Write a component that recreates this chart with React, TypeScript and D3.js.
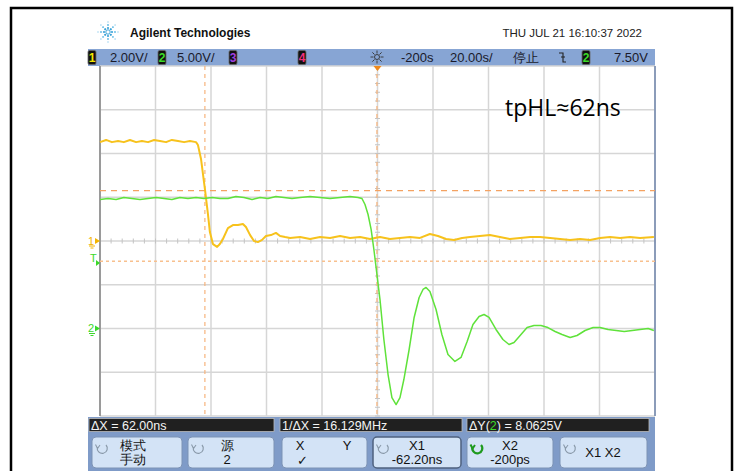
import React from 'react';
import * as d3 from 'd3';

// ch1 (yellow), time in ns, volts
const ch1Time = [-100, -97.8, -95.7, -93.5, -91.4, -89.2, -87.0, -84.9, -82.7, -80.5, -78.4, -76.2, -74.1, -71.9, -69.7, -67.6, -65.4,
  -64.7, -63.6, -62.2, -61.1, -60.4, -59.3, -57.8, -56.8, -55.7, -53.9, -52.1, -50.3, -48.5, -47.4, -45.9, -44.5, -43.1, -41.6,
  -40.2, -38.4, -36.6, -35.1, -33.3, -31.5, -27.9, -24.3, -20.7, -17.1, -13.5, -9.9, -6.3, -2.7, 0.9, 4.5, 8.1, 11.7, 15.3,
  18.9, 21.8, 24.7, 27.6, 30.5, 33.3, 36.9, 40.5, 44.1, 47.7, 51.4, 55.0, 58.6, 62.2, 65.8, 69.4, 73.0, 76.6, 80.2, 83.8, 87.4,
  91.0, 94.6, 99.6];
const ch1Volt = [4.52, 4.62, 4.52, 4.57, 4.52, 4.62, 4.52, 4.57, 4.52, 4.62, 4.57, 4.52, 4.62, 4.57, 4.52, 4.57, 4.52,
  4.39, 3.75, 2.38, 1.23, 0.41, -0.14, -0.27, -0.14, 0.09, 0.59, 0.73, 0.73, 0.78, 0.64, 0.27, 0.0, -0.05, 0.05,
  0.23, 0.27, 0.37, 0.23, 0.18, 0.14, 0.18, 0.09, 0.18, 0.14, 0.23, 0.14, 0.18, 0.09, 0.18, 0.09, 0.14, 0.18, 0.14,
  0.32, 0.23, 0.09, 0.05, 0.14, 0.18, 0.23, 0.27, 0.18, 0.09, 0.14, 0.18, 0.18, 0.14, 0.09, 0.05, 0.09, 0.05, 0.14, 0.18, 0.14,
  0.18, 0.14, 0.18];

// ch2 (green)
const ch2Time = [-100, -97.1, -94.2, -91.4, -88.5, -85.6, -82.7, -79.8, -76.9, -74.1, -71.2, -68.3, -65.4, -62.5, -59.6, -56.8,
  -53.9, -51.0, -48.1, -45.2, -42.3, -39.5, -36.6, -33.7, -30.8, -27.9, -24.3, -20.7, -17.1, -13.5, -9.9, -7.0, -5.6,
  -4.5, -3.4, -2.3, -1.3, -0.2, 0.9, 2.3, 3.8, 5.2, 6.7, 8.1, 9.5, 11.4, 13.2, 15.0, 16.4, 17.5, 18.9, 21.1, 23.2, 25.4,
  27.9, 30.1, 32.3, 34.4, 36.6, 38.4, 40.2, 42.7, 45.2, 47.4, 49.2, 51.4, 53.9, 56.4, 58.9, 61.4, 64.0, 66.5, 69.4, 71.9,
  74.8, 77.7, 80.2, 83.1, 86.0, 88.9, 91.8, 94.6, 97.5, 99.6];
const ch2Volt = [14.74, 14.86, 14.74, 14.97, 14.86, 14.74, 14.86, 14.97, 14.86, 14.74, 14.97, 14.86, 14.97, 14.86, 14.97, 14.86,
  14.86, 15.09, 14.97, 14.74, 14.97, 14.86, 15.09, 14.97, 14.86, 14.97, 15.09, 14.97, 14.86, 14.97, 15.09, 14.97, 14.86,
  14.17, 13.03, 11.32, 9.03, 6.17, 3.31, -1.26, -5.26, -7.89, -8.69, -7.89, -5.83, -2.40, 1.26, 3.54, 4.46, 4.69, 4.23, 2.17, -0.69, -2.97,
  -3.77, -3.31, -1.49, 0.46, 1.37, 1.60, 1.26, -0.11, -1.26, -1.83, -1.60, -0.80, 0.11, 0.34, 0.34, 0.11, -0.34, -0.69, -1.03, -0.80,
  -0.23, 0.11, 0.11, -0.11, -0.23, -0.34, -0.23, -0.11, 0.0, -0.23];

const ch1PerDiv = 2;
const ch2PerDiv = 5;
const ch2OffsetDiv = -2;
const cursorXs = [-62.2, -0.2];
const cursorYs = [15.75, 7.6875];
const trigLevel = 7.5;

const headerItems = [
  { text: '2.00V/', x: 110 },
  { text: '5.00V/', x: 177 },
  { text: '-200s', x: 401 },
  { text: '20.00s/', x: 450 },
  { text: '停止', x: 513 },
  { text: '7.50V', x: 614 },
];
const chanBoxes = [
  { label: '1', x: 88, color: '#f2e600' },
  { label: '2', x: 158, color: '#3cdc28' },
  { label: '3', x: 229, color: '#a040e0' },
  { label: '4', x: 298, color: '#f0307a' },
  { label: '2', x: 582, color: '#3cdc28' },
];
const measures = [
  { x0: 89, x1: 274, text: 'ΔX = 62.00ns' },
  { x0: 280, x1: 462, text: '1/ΔX = 16.129MHz' },
  { x0: 467, x1: 649, text: '' },
];
const buttons = [
  { x0: 92, x1: 182, lines: ['模式', '手动'], cx: 133 },
  { x0: 188, x1: 274, lines: ['源', '2'], cx: 227 },
  { x0: 282, x1: 367, lines: [], cx: 0 },
  { x0: 373, x1: 461, lines: ['X1', '-62.20ns'], cx: 417 },
  { x0: 467, x1: 553, lines: ['X2', '-200ps'], cx: 510 },
  { x0: 560, x1: 647, lines: ['X1 X2'], cx: 603 },
];

const narrow = '"Liberation Sans Narrow", "Liberation Sans", Arial, sans-serif';

function RotIcon({ x, y, green }: { x: number; y: number; green?: boolean }) {
  const c = green ? '#1e9a1e' : '#8a9aaa';
  return (
    <g transform={`translate(${x},${y})`}>
      <path d="M 4 -3 A 5 5 0 1 1 -4.5 -1" fill="none" stroke={c} strokeWidth={green ? 2.2 : 1.2} />
      <path d="M -6.5 -3.5 L -4.5 0.5 L -2 -3" fill="none" stroke={c} strokeWidth={green ? 2 : 1.1} />
    </g>
  );
}

export default function App() {
  const x = d3.scaleLinear().domain([-100, 100]).range([100, 655]);
  const y = d3.scaleLinear().domain([-4, 4]).range([416, 66]);
  const line = d3.line<[number, number]>().x(d => x(d[0])).y(d => y(d[1]));
  const ch1Path = line(ch1Time.map((t, i) => [t, ch1Volt[i] / ch1PerDiv] as [number, number])) || '';
  const ch2Path = line(ch2Time.map((t, i) => [t, ch2Volt[i] / ch2PerDiv + ch2OffsetDiv] as [number, number])) || '';
  const vGrid = d3.range(-100, 101, 20);
  const hGrid = d3.range(-4, 5, 1);
  const hTicks = d3.range(-100, 100.1, 4);
  const vTicks = d3.range(-4, 4.01, 0.2);
  const ch2Y = (v: number) => y(v / ch2PerDiv + ch2OffsetDiv);

  const spokes = d3.range(0, 360, 45);

  return (
    <svg width={736} height={471} style={{ position: 'absolute', left: 0, top: 0, background: '#fff' }}>
      <rect x={11} y={8} width={721} height={480} fill="#fff" stroke="#000" strokeWidth={2.5} />

      {/* logo + title */}
      <g transform="translate(108,32)">
        {spokes.map(a => (
          <g key={a} transform={`rotate(${a})`}>
            <circle cx={4} cy={0} r={1.1} fill="#3aa3d8" />
            <circle cx={7} cy={0} r={0.9} fill="#5ab8e4" />
            <circle cx={10} cy={0} r={0.7} fill="#8ccbec" />
          </g>
        ))}
        <circle r={2.2} fill="none" stroke="#3aa3d8" strokeWidth={1} />
      </g>
      <text x={130} y={37} fontFamily={narrow} fontWeight="bold" fontSize={12} fill="#111">Agilent Technologies</text>
      <text x={642} y={37} textAnchor="end" fontFamily={narrow} fontSize={11.5} fill="#222">THU JUL 21 16:10:37 2022</text>

      {/* header bar */}
      <rect x={88} y={49} width={567} height={17} fill="#87a5d4" />
      {chanBoxes.map((b, i) => (
        <g key={i}>
          <rect x={b.x} y={50.5} width={8} height={14} rx={1.5} fill="#111" stroke="#666" strokeWidth={0.8} />
          <text x={b.x + 4} y={62} textAnchor="middle" fontFamily={narrow} fontWeight="bold" fontSize={12} fill={b.color}>{b.label}</text>
        </g>
      ))}
      {headerItems.map((h, i) => (
        <text key={i} x={h.x} y={62} fontFamily={narrow} fontSize={13} fill="#1a1a2a">{h.text}</text>
      ))}
      <g transform="translate(377,57)" stroke="#333" strokeWidth={0.9}>
        <circle r={2.5} fill="none" />
        {spokes.map(a => (
          <line key={a} x1={3.5} x2={6.5} transform={`rotate(${a})`} />
        ))}
      </g>
      <path d="M 559 53 L 563 53 L 563 62 L 566 62 M 561 57 L 565 57" fill="none" stroke="#222" strokeWidth={1.1} />

      {/* plot area */}
      <rect x={100} y={66} width={555} height={350} fill="#fff" />
      {vGrid.map(t => (
        <line key={'v' + t} x1={x(t)} x2={x(t)} y1={66} y2={416} stroke="#d6d6d6" strokeWidth={1.5} />
      ))}
      {hGrid.map(d => (
        <line key={'h' + d} x1={100} x2={655} y1={y(d)} y2={y(d)} stroke="#d6d6d6" strokeWidth={1.5} />
      ))}
      {hTicks.map(t => (
        <line key={'ht' + t} x1={x(t)} x2={x(t)} y1={y(0) - 2.5} y2={y(0) + 2.5} stroke="#c4c4c4" strokeWidth={1} />
      ))}
      {vTicks.map(d => (
        <line key={'vt' + d} x1={x(0) - 2.5} x2={x(0) + 2.5} y1={y(d)} y2={y(d)} stroke="#c4c4c4" strokeWidth={1} />
      ))}
      <line x1={100} x2={100} y1={66} y2={416} stroke="#9a9a9a" strokeWidth={2} />
      <line x1={655} x2={655} y1={66} y2={416} stroke="#6f86ad" strokeWidth={1.5} />

      {/* cursors */}
      {cursorXs.map((c, i) => (
        <line key={'cx' + i} x1={x(c)} x2={x(c)} y1={66} y2={416} stroke="#f7b47c" strokeWidth={1.2} strokeDasharray="4,4" />
      ))}
      <line x1={100} x2={655} y1={ch2Y(cursorYs[0])} y2={ch2Y(cursorYs[0])} stroke="#f4a262" strokeWidth={1.2} strokeDasharray="6,5" />
      <line x1={100} x2={655} y1={ch2Y(cursorYs[1])} y2={ch2Y(cursorYs[1])} stroke="#f8c08e" strokeWidth={1.4} strokeDasharray="3,3" />
      <path d={`M ${x(0) - 4} 66 L ${x(0) + 4} 66 L ${x(0)} 71 Z`} fill="#f08a1c" />

      {/* traces */}
      <path d={ch1Path} fill="none" stroke="#f7c21c" strokeWidth={2} strokeLinejoin="round" />
      <path d={ch2Path} fill="none" stroke="#5fe23a" strokeWidth={1.5} strokeLinejoin="round" />

      {/* channel markers */}
      <text x={88} y={y(0) + 4} fontFamily={narrow} fontSize={11} fill="#f2b400">1</text>
      <path d={`M 95 ${y(0) - 3} L 100 ${y(0)} L 95 ${y(0) + 3} Z`} fill="#f2b400" />
      <path d={`M 89 ${y(0) + 5} L 95 ${y(0) + 5} M 90.5 ${y(0) + 7} L 93.5 ${y(0) + 7}`} stroke="#f2b400" strokeWidth={1} />
      <text x={90} y={ch2Y(trigLevel) - 1} fontFamily={narrow} fontSize={11} fill="#3cd82a">T</text>
      <path d={`M 96 ${ch2Y(trigLevel) - 3} L 100 ${ch2Y(trigLevel)} L 96 ${ch2Y(trigLevel) + 3} Z`} fill="#3cd82a" />
      <text x={88} y={ch2Y(0) + 3} fontFamily={narrow} fontSize={11} fill="#3cd82a">2</text>
      <path d={`M 95 ${ch2Y(0) - 3} L 100 ${ch2Y(0)} L 95 ${ch2Y(0) + 3} Z`} fill="#3cd82a" />
      <path d={`M 89 ${ch2Y(0) + 5} L 95 ${ch2Y(0) + 5} M 90.5 ${ch2Y(0) + 7} L 93.5 ${ch2Y(0) + 7}`} stroke="#3cd82a" strokeWidth={1} />

      <text x={505} y={116} fontFamily='"Open Sans", "Noto Sans", sans-serif' fontSize={23} fill="#000">tpHL≈62ns</text>

      {/* bottom panel */}
      <rect x={88} y={417} width={567} height={60} fill="#7f9bc8" />
      {measures.map((m, i) => (
        <rect key={i} x={m.x0} y={418.5} width={m.x1 - m.x0} height={13} fill="#202020" stroke="#b8b8b8" strokeWidth={0.8} />
      ))}
      {measures.slice(0, 2).map((m, i) => (
        <text key={i} x={m.x0 + 2} y={429.5} fontFamily={narrow} fontSize={12.5} fill="#f4f4f4">{m.text}</text>
      ))}
      <text x={469} y={429.5} fontFamily={narrow} fontSize={12.5} fill="#f4f4f4">
        ΔY(<tspan fill="#3cdc28">2</tspan>) = 8.0625V
      </text>

      {buttons.map((b, i) => (
        <g key={i}>
          <rect x={b.x0} y={437} width={b.x1 - b.x0} height={31} rx={4} fill="#d3e3f6"
            stroke={i === 3 ? '#4f627f' : '#7d93b5'} strokeWidth={i === 3 ? 1.5 : 1} />
          {i !== 2 && <RotIcon x={b.x0 + 10} y={448} green={i === 4} />}
          {b.lines.length === 2 && (
            <>
              <text x={b.cx} y={450} textAnchor="middle" fontFamily={narrow} fontSize={13} fill="#111">{b.lines[0]}</text>
              <text x={b.cx} y={464} textAnchor="middle" fontFamily={narrow} fontSize={13} fill="#111">{b.lines[1]}</text>
            </>
          )}
          {b.lines.length === 1 && (
            <text x={b.cx} y={457} textAnchor="middle" fontFamily={narrow} fontSize={13} fill="#111">{b.lines[0]}</text>
          )}
        </g>
      ))}
      <text x={300} y={450} textAnchor="middle" fontFamily={narrow} fontSize={13} fill="#111">X</text>
      <text x={347} y={450} textAnchor="middle" fontFamily={narrow} fontSize={13} fill="#111">Y</text>
      <text x={302} y={465} textAnchor="middle" fontFamily={narrow} fontSize={13} fill="#111">✓</text>
    </svg>
  );
}
